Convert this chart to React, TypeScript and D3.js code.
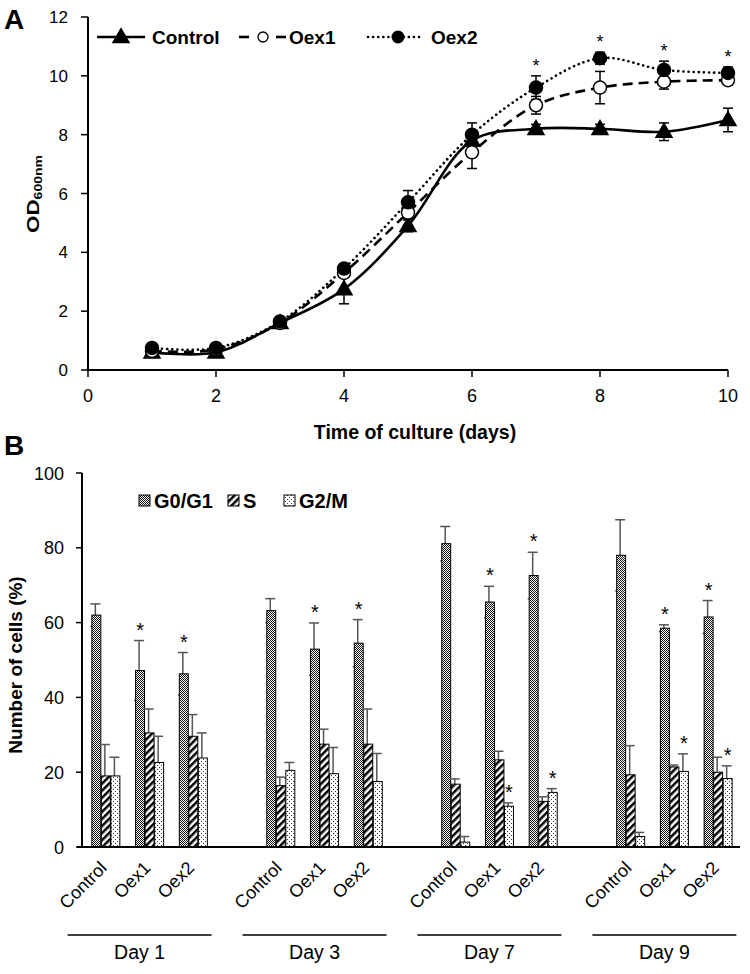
import React from "react";
import * as d3 from "d3";

// ---------- Panel A data ----------
const days = [1, 2, 3, 4, 5, 6, 7, 8, 9, 10];
const controlOD = [0.6, 0.6, 1.6, 2.75, 4.9, 7.8, 8.2, 8.2, 8.1, 8.5];
const controlErr = [0.05, 0.05, 0.1, 0.5, 0.2, 0.3, 0.15, 0.15, 0.3, 0.4];
const oex1OD = [0.65, 0.7, 1.6, 3.3, 5.35, 7.4, 9.0, 9.6, 9.8, 9.85];
const oex1Err = [0.05, 0.05, 0.1, 0.15, 0.2, 0.55, 0.3, 0.55, 0.25, 0.15];
const oex2OD = [0.75, 0.75, 1.65, 3.45, 5.7, 8.0, 9.6, 10.6, 10.2, 10.1];
const oex2Err = [0.05, 0.05, 0.1, 0.15, 0.4, 0.4, 0.4, 0.2, 0.3, 0.2];
const oex2Sig = [false, false, false, false, false, false, true, true, true, true];
const xTicksA = [0, 2, 4, 6, 8, 10];
const yTicksA = [0, 2, 4, 6, 8, 10, 12];

// ---------- Panel B data ----------
const dayLabels = ["Day 1", "Day 3", "Day 7", "Day 9"];
const lineLabels = ["Control", "Oex1", "Oex2"];
const phases = ["G0/G1", "S", "G2/M"];
const g0Values = [[62, 47.2, 46.3], [63.2, 52.9, 54.5], [81.1, 65.5, 72.6], [78, 58.5, 61.5]];
const g0Errors = [[3, 8, 5.7], [3.2, 7, 6.3], [4.6, 4.2, 6.2], [9.5, 0.9, 4.4]];
const sValues = [[19, 30.5, 29.6], [16.4, 27.5, 27.5], [16.8, 23.3, 12.2], [19.3, 21.4, 20]];
const sErrors = [[8.4, 6.4, 5.8], [2.3, 4, 9.4], [1.4, 2.3, 1.2], [7.8, 0.5, 4]];
const g2mValues = [[19, 22.6, 23.8], [20.5, 19.6, 17.5], [1.3, 10.9, 14.6], [2.8, 20.2, 18.3]];
const g2mErrors = [[5, 7, 6.7], [2.1, 7, 7.5], [1.5, 0.9, 1], [1.1, 4.7, 3.4]];
const g0Sig = [[0, 1, 1], [0, 1, 1], [0, 1, 1], [0, 1, 1]];
const g2mSig = [[0, 0, 0], [0, 0, 0], [0, 1, 1], [0, 1, 1]];
const yTicksB = [0, 20, 40, 60, 80, 100];

const FONT = "Arial, 'Liberation Sans', sans-serif";

export default function App() {
  // Panel A scales
  const xA = d3.scaleLinear().domain([0, 10]).range([88, 728]);
  const yA = d3.scaleLinear().domain([0, 12]).range([370, 17]);
  const lineGen = d3
    .line<number>()
    .x((_, i) => xA(days[i]))
    .y((d) => yA(d))
    .curve(d3.curveCatmullRom.alpha(0.5));
  const tri = d3.symbol().type(d3.symbolTriangle).size(150)() as string;

  // Panel B scales
  const slots: string[] = [];
  dayLabels.forEach((d, di) => {
    lineLabels.forEach((l) => slots.push(d + "|" + l));
    if (di < dayLabels.length - 1) slots.push("gap" + di);
  });
  const x0 = d3.scaleBand().domain(slots).range([84, 740]).padding(0);
  const groupW = 28;
  const x1 = d3.scaleBand().domain(phases).range([0, groupW]).paddingInner(0.06);
  const yB = d3.scaleLinear().domain([0, 100]).range([847, 473]);
  const slotCenter = (key: string) => (x0(key) as number) + x0.bandwidth() / 2;

  const phaseData = [
    { key: "G0/G1", vals: g0Values, errs: g0Errors, sig: g0Sig, fill: "url(#pG0)" },
    { key: "S", vals: sValues, errs: sErrors, sig: null, fill: "url(#pS)" },
    { key: "G2/M", vals: g2mValues, errs: g2mErrors, sig: g2mSig, fill: "url(#pG2)" },
  ];

  const seriesA = [
    { vals: controlOD, errs: controlErr, dash: undefined as string | undefined, cap: "butt" },
    { vals: oex1OD, errs: oex1Err, dash: "10,6", cap: "butt" },
    { vals: oex2OD, errs: oex2Err, dash: "0.1,5", cap: "round" },
  ];

  return (
    <svg width={750} height={974} style={{ position: "absolute", left: 0, top: 0, background: "#fff" }} fontFamily={FONT}>
      <defs>
        <pattern id="pG0" patternUnits="userSpaceOnUse" width={2} height={2}>
          <rect width={2} height={2} fill="#fff" />
          <rect x={0} y={0} width={1} height={1} fill="#111" />
          <rect x={1} y={1} width={1} height={1} fill="#111" />
        </pattern>
        <pattern id="pS" patternUnits="userSpaceOnUse" width={5} height={5} patternTransform="rotate(45)">
          <rect width={5} height={5} fill="#fff" />
          <rect x={0} y={0} width={2.5} height={5} fill="#000" />
        </pattern>
        <pattern id="pG2" patternUnits="userSpaceOnUse" width={4} height={4}>
          <rect width={4} height={4} fill="#fff" />
          <rect x={1} y={1} width={1} height={1} fill="#333" />
          <rect x={3} y={3} width={1} height={1} fill="#333" />
        </pattern>
      </defs>

      {/* ================= Panel A ================= */}
      <text x={4} y={29} fontSize={28} fontWeight="bold">A</text>
      {/* axes */}
      <line x1={xA(0)} x2={xA(0)} y1={yA(12)} y2={yA(0)} stroke="#000" strokeWidth={2} />
      <line x1={xA(0)} x2={xA(10)} y1={yA(0)} y2={yA(0)} stroke="#000" strokeWidth={2} />
      {yTicksA.map((t) => (
        <g key={"ya" + t}>
          <line x1={xA(0) - 7} x2={xA(0)} y1={yA(t)} y2={yA(t)} stroke="#000" strokeWidth={1.5} />
          <text x={68} y={yA(t) + 6} fontSize={17} textAnchor="end">{t}</text>
        </g>
      ))}
      {xTicksA.map((t) => (
        <g key={"xa" + t}>
          <line x1={xA(t)} x2={xA(t)} y1={yA(0)} y2={yA(0) + 7} stroke="#000" strokeWidth={1.5} />
          <text x={xA(t)} y={402} fontSize={18} textAnchor="middle">{t}</text>
        </g>
      ))}
      <text x={415} y={439} fontSize={19.5} fontWeight="bold" textAnchor="middle">Time of culture (days)</text>
      <text transform="translate(39,194) rotate(-90) scale(1.4,1)" fontSize={16} fontWeight="bold" textAnchor="middle">
        OD<tspan fontSize={10} dy={3}>600nm</tspan>
      </text>

      {/* lines */}
      {seriesA.map((s, si) => (
        <path
          key={"la" + si}
          d={lineGen(s.vals) as string}
          fill="none"
          stroke="#000"
          strokeWidth={2.6}
          strokeDasharray={s.dash}
          strokeLinecap={s.cap as any}
        />
      ))}
      {/* error bars */}
      {seriesA.map((s, si) =>
        s.vals.map((v, i) => (
          <g key={"ea" + si + "-" + i} stroke="#000" strokeWidth={1.5}>
            <line x1={xA(days[i])} x2={xA(days[i])} y1={yA(v - s.errs[i])} y2={yA(v + s.errs[i])} />
            <line x1={xA(days[i]) - 5} x2={xA(days[i]) + 5} y1={yA(v + s.errs[i])} y2={yA(v + s.errs[i])} />
            <line x1={xA(days[i]) - 5} x2={xA(days[i]) + 5} y1={yA(v - s.errs[i])} y2={yA(v - s.errs[i])} />
          </g>
        ))
      )}
      {/* markers */}
      {controlOD.map((v, i) => (
        <path key={"ct" + i} d={tri} transform={`translate(${xA(days[i])},${yA(v) + 1})`} fill="#000" />
      ))}
      {oex1OD.map((v, i) => (
        <circle key={"o1" + i} cx={xA(days[i])} cy={yA(v)} r={6.5} fill="#fff" stroke="#000" strokeWidth={1.5} />
      ))}
      {oex2OD.map((v, i) => (
        <circle key={"o2" + i} cx={xA(days[i])} cy={yA(v)} r={6.5} fill="#000" stroke="#000" strokeWidth={1.5} />
      ))}
      {oex2OD.map((v, i) =>
        oex2Sig[i] ? (
          <text key={"sa" + i} x={xA(days[i])} y={yA(v + oex2Err[i]) - 4} fontSize={18} textAnchor="middle">*</text>
        ) : null
      )}

      {/* legend A */}
      <line x1={97} x2={145} y1={37} y2={37} stroke="#000" strokeWidth={2.6} />
      <path d={tri} transform="translate(121,38)" fill="#000" />
      <text x={152} y={44} fontSize={19} fontWeight="bold">Control</text>
      <line x1={239} x2={249} y1={37} y2={37} stroke="#000" strokeWidth={2.6} />
      <line x1={276} x2={286} y1={37} y2={37} stroke="#000" strokeWidth={2.6} />
      <circle cx={263} cy={37} r={5} fill="#fff" stroke="#000" strokeWidth={1.3} />
      <text x={289} y={44} fontSize={19} fontWeight="bold">Oex1</text>
      <line x1={368} x2={424} y1={37} y2={37} stroke="#000" strokeWidth={2.6} strokeDasharray="0.1,5" strokeLinecap="round" />
      <circle cx={398} cy={37} r={6.5} fill="#000" />
      <text x={431} y={44} fontSize={19} fontWeight="bold">Oex2</text>

      {/* ================= Panel B ================= */}
      <text x={4} y={455} fontSize={28} fontWeight="bold">B</text>
      <line x1={82} x2={82} y1={yB(100)} y2={yB(0)} stroke="#000" strokeWidth={2} />
      {yTicksB.map((t) => (
        <g key={"yb" + t}>
          <line x1={76} x2={82} y1={yB(t)} y2={yB(t)} stroke="#000" strokeWidth={1.5} />
          <text x={64} y={yB(t) + 6.5} fontSize={18} textAnchor="end">{t}</text>
        </g>
      ))}
      <text transform="translate(22,665) rotate(-90)" fontSize={19} fontWeight="bold" textAnchor="middle">Number of cells (%)</text>

      {/* bars */}
      {dayLabels.map((d, di) =>
        lineLabels.map((l, li) => {
          const key = d + "|" + l;
          const gx = slotCenter(key) - groupW / 2;
          return (
            <g key={key}>
              {phaseData.map((p) => {
                const v = p.vals[di][li];
                const e = p.errs[di][li];
                const bx = gx + (x1(p.key) as number);
                const bw = x1.bandwidth();
                const cx = bx + bw / 2;
                return (
                  <g key={p.key}>
                    <g stroke="#555" strokeWidth={1.5}>
                      <line x1={cx - 1} x2={cx - 1} y1={yB(Math.max(0, v - e))} y2={yB(v + e)} />
                      <line x1={cx - 6} x2={cx + 4} y1={yB(v + e)} y2={yB(v + e)} />
                      <line x1={cx - 6} x2={cx + 4} y1={yB(Math.max(0, v - e))} y2={yB(Math.max(0, v - e))} />
                    </g>
                    <rect x={bx} y={yB(v)} width={bw} height={yB(0) - yB(v)} fill={p.fill} stroke="#000" strokeWidth={1} />
                    {p.sig && p.sig[di][li] ? (
                      <text x={cx} y={yB(v + e) - 4} fontSize={20} textAnchor="middle">*</text>
                    ) : null}
                  </g>
                );
              })}
            </g>
          );
        })
      )}
      <line x1={77} x2={740} y1={yB(0)} y2={yB(0)} stroke="#000" strokeWidth={2} />

      {/* x category labels */}
      {dayLabels.map((d, di) =>
        lineLabels.map((l) => {
          const key = d + "|" + l;
          return (
            <text key={"xl" + key} transform={`translate(${slotCenter(key) + 2},869) rotate(-45)`} fontSize={18} textAnchor="end">
              {l}
            </text>
          );
        })
      )}
      {dayLabels.map((d) => {
        const c = slotCenter(d + "|Oex1") - 10;
        return (
          <g key={"day" + d}>
            <line x1={c - 72} x2={c + 72} y1={935} y2={935} stroke="#000" strokeWidth={1.5} />
            <text x={c} y={959} fontSize={19.5} textAnchor="middle">{d}</text>
          </g>
        );
      })}

      {/* legend B */}
      {phaseData.map((p, i) => {
        const lx = [139, 228, 284][i];
        return (
          <g key={"lb" + p.key}>
            <rect x={lx} y={495} width={11} height={11} fill={p.fill} stroke="#000" strokeWidth={1} />
            <text x={lx + 15} y={508} fontSize={20} fontWeight="bold">{p.key}</text>
          </g>
        );
      })}
    </svg>
  );
}
